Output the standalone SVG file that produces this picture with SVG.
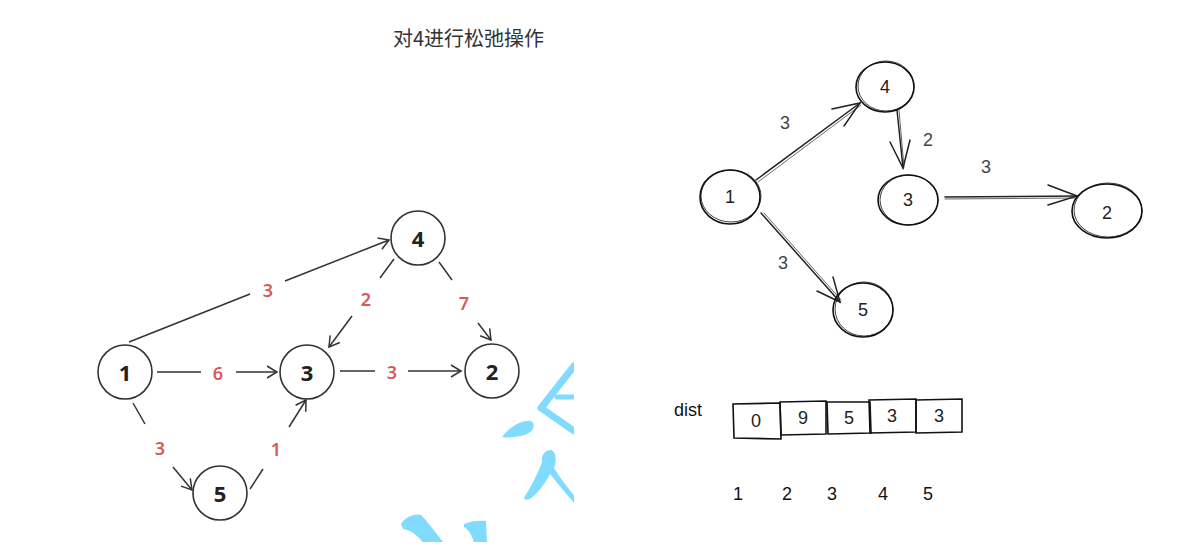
<svg xmlns="http://www.w3.org/2000/svg" width="1200" height="558" viewBox="0 0 1200 558">
<defs>
<style>
.title{font-family:"Noto Sans CJK SC","Liberation Sans",sans-serif;font-size:20px;fill:#333;}
.ln{fill:#fff;stroke:#333;stroke-width:1.6;}
.nl{font-family:"Noto Sans","Liberation Sans",sans-serif;font-weight:bold;font-size:22px;fill:#222;text-anchor:middle;dominant-baseline:central;}
.wl{font-family:"Noto Sans","Liberation Sans",sans-serif;font-weight:600;font-size:18px;fill:#d65a5a;text-anchor:middle;dominant-baseline:central;}
.e{stroke:#333;stroke-width:1.5;fill:none;}
.ea{stroke:#333;stroke-width:1.5;fill:none;marker-end:url(#arr);}
.hn{fill:none;stroke:#111;stroke-width:1.6;}
.hn2{fill:none;stroke:#111;stroke-width:0.8;}
.ht{font-family:"Liberation Sans",sans-serif;font-size:18px;fill:#222;text-anchor:middle;dominant-baseline:central;}
.hl{font-family:"Liberation Sans",sans-serif;font-size:18px;fill:#444;text-anchor:middle;dominant-baseline:central;}
.he{stroke:#222;stroke-width:1.5;fill:none;stroke-linecap:round;}
.he2{stroke:#444;stroke-width:0.8;fill:none;stroke-linecap:round;}
.box{fill:none;stroke:#111;stroke-width:1.6;}
.hw{font-family:"Liberation Sans",sans-serif;font-size:18px;fill:#111;text-anchor:middle;dominant-baseline:central;}
.wm{fill:#80dbff;}
.wms{stroke:#80dbff;fill:none;stroke-linecap:round;stroke-linejoin:round;}
</style>
<marker id="arr" markerUnits="userSpaceOnUse" markerWidth="14" markerHeight="14" viewBox="0 0 14 14" refX="12" refY="7" orient="auto">
<path d="M2,1 L12,7 L2,13" fill="none" stroke="#333" stroke-width="1.5"/>
</marker>
<clipPath id="wmclip"><rect x="380" y="340" width="194" height="202"/></clipPath>
</defs>
<rect width="1200" height="558" fill="#fff"/>

<text class="title" x="393" y="46">对4进行松弛操作</text>

<!-- watermark fragments -->
<g id="watermark" clip-path="url(#wmclip)">
<path class="wms" stroke-width="7" d="M574,366 L541,408 L574,431"/>
<path class="wms" stroke-width="5" d="M557,397 L574,397"/>
<path class="wm" d="M502,437 C510,426 524,419 531,421 C537,425 533,434 520,436 C513,437 507,438 502,437 Z"/>
<path class="wm" d="M524,498 C530,488 538,474 542,462 C541,455 545,450 551,450 C556,452 557,460 554,468 C560,478 568,488 576,498 L576,505 C566,494 558,484 550,474 C545,484 538,493 530,499 C527,500 524,500 524,498 Z"/>
<path class="wm" d="M401,524 C405,517 415,513 421,515 C428,522 436,533 444,543 L423,543 C418,535 410,530 403,529 Z"/>
<path class="wm" d="M464,524 C470,521 480,520 486,521 L487,543 L474,543 C472,533 467,529 464,527 Z"/>
</g>

<!-- left graph connectors -->
<g id="left-edges">
<line class="e" x1="129" y1="342" x2="250" y2="294"/>
<line class="ea" x1="285" y1="281" x2="389" y2="240"/>
<line class="e" x1="157" y1="372" x2="201" y2="372"/>
<line class="ea" x1="236" y1="372" x2="277" y2="372"/>
<line class="e" x1="340" y1="371" x2="375" y2="371"/>
<line class="ea" x1="408" y1="371" x2="461" y2="371"/>
<line class="e" x1="394" y1="259" x2="380" y2="278"/>
<line class="ea" x1="352" y1="316" x2="329" y2="347"/>
<line class="e" x1="439" y1="262" x2="452" y2="280"/>
<line class="ea" x1="478" y1="323" x2="491" y2="340"/>
<line class="e" x1="133" y1="403" x2="145" y2="424"/>
<line class="ea" x1="173" y1="467" x2="192" y2="490"/>
<line class="e" x1="250" y1="489" x2="263" y2="469"/>
<line class="ea" x1="289" y1="427" x2="306" y2="400"/>
<text class="wl" x="268" y="290">3</text>
<text class="wl" x="218" y="373">6</text>
<text class="wl" x="392" y="372">3</text>
<text class="wl" x="366" y="299">2</text>
<text class="wl" x="464" y="303">7</text>
<text class="wl" x="160" y="448">3</text>
<text class="wl" x="276" y="449">1</text>
</g>

<g id="L1"><circle class="ln" cx="125" cy="372" r="27"/><text class="nl" x="125" y="372">1</text></g>
<g id="L3"><circle class="ln" cx="307" cy="372" r="27"/><text class="nl" x="307" y="372">3</text></g>
<g id="L2"><circle class="ln" cx="492" cy="371" r="27"/><text class="nl" x="492" y="371">2</text></g>
<g id="L4"><circle class="ln" cx="418" cy="238" r="27"/><text class="nl" x="418" y="238">4</text></g>
<g id="L5"><circle class="ln" cx="220" cy="493" r="27"/><text class="nl" x="220" y="493">5</text></g>

<!-- right graph connectors -->
<g id="right-edges">
<path class="he" d="M756,180 L860,103"/>
<path class="he2" d="M758,182 L861,105"/>
<path class="he" d="M832,109 L860,103 L844,126"/>
<path class="he" d="M897,110 L903,168"/>
<path class="he2" d="M899,110 L904,167"/>
<path class="he" d="M890,142 L903,168 L910,140"/>
<path class="he" d="M945,197 L1077,196"/>
<path class="he2" d="M945,199 L1076,198"/>
<path class="he" d="M1048,185 L1077,196 L1048,205"/>
<path class="he" d="M761,213 L840,302"/>
<path class="he2" d="M764,213 L841,300"/>
<path class="he" d="M817,291 L840,302 L833,277"/>
<text class="hl" x="785" y="123">3</text>
<text class="hl" x="928" y="140">2</text>
<text class="hl" x="986" y="167">3</text>
<text class="hl" x="783" y="263">3</text>
</g>

<g id="R4"><ellipse class="hn" cx="885" cy="87" rx="29" ry="25"/><ellipse class="hn2" cx="886" cy="86" rx="28" ry="25"/><text class="ht" x="885" y="87">4</text></g>
<g id="R1"><ellipse class="hn" cx="730" cy="197" rx="30" ry="27"/><ellipse class="hn2" cx="731" cy="196" rx="30" ry="26"/><text class="ht" x="730" y="197">1</text></g>
<g id="R3"><ellipse class="hn" cx="908" cy="200" rx="30" ry="25"/><ellipse class="hn2" cx="909" cy="200" rx="29" ry="25"/><text class="ht" x="908" y="200">3</text></g>
<g id="R2"><ellipse class="hn" cx="1107" cy="211" rx="35" ry="27"/><ellipse class="hn2" cx="1108" cy="210" rx="34" ry="27"/><text class="ht" x="1107" y="213">2</text></g>
<g id="R5"><ellipse class="hn" cx="863" cy="310" rx="30" ry="27"/><ellipse class="hn2" cx="864" cy="309" rx="29" ry="27"/><text class="ht" x="863" y="310">5</text></g>

<!-- dist array -->
<g id="dist">
<text class="hw" x="688" y="410">dist</text>
<path class="box" d="M733,404 L780,403 L781,439 L734,438 Z"/>
<path class="box" d="M780,402 L826,401 L826,434 L781,435 Z"/>
<path class="box" d="M827,402 L870,402 L871,433 L828,434 Z"/>
<path class="box" d="M869,400 L916,399 L916,432 L870,433 Z"/>
<path class="box" d="M916,400 L962,399 L962,432 L916,433 Z"/>
<text class="ht" x="756" y="421">0</text>
<text class="ht" x="803" y="418">9</text>
<text class="ht" x="849" y="418">5</text>
<text class="ht" x="892" y="416">3</text>
<text class="ht" x="939" y="416">3</text>
<text class="hw" x="738" y="494">1</text>
<text class="hw" x="787" y="494">2</text>
<text class="hw" x="832" y="494">3</text>
<text class="hw" x="883" y="494">4</text>
<text class="hw" x="928" y="494">5</text>
</g>
</svg>
